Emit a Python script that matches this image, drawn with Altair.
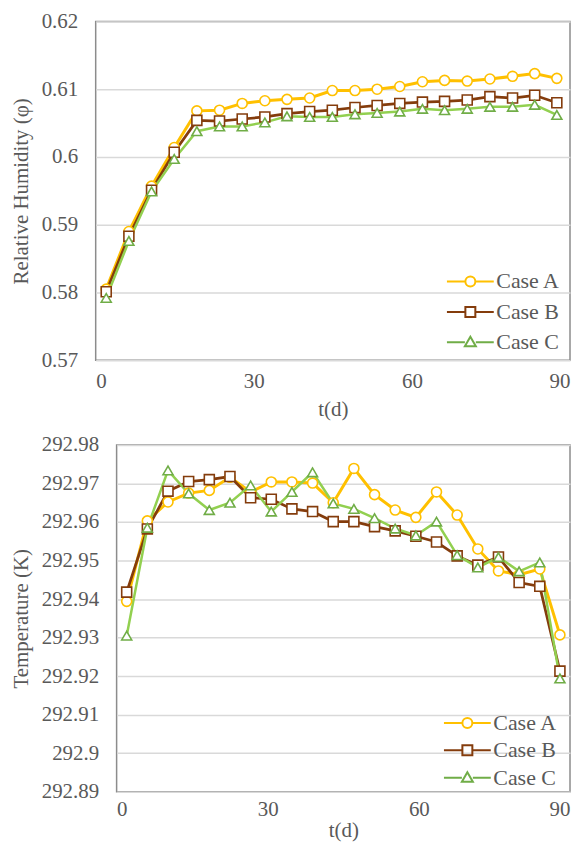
import altair as alt
import pandas as pd

cases = ["Case A", "Case B", "Case C"]

# Relative humidity panel
t_rh = [2.0, 6.3, 10.6, 14.9, 19.2, 23.5, 27.8, 32.1, 36.3, 40.6, 44.9,
        49.2, 53.4, 57.7, 62.0, 66.2, 70.5, 74.8, 79.1, 83.3, 87.5]
rh_a = [0.5805, 0.5890, 0.5957, 0.6014, 0.6068, 0.6069, 0.6079, 0.6083, 0.6085, 0.6087, 0.6098,
        0.6098, 0.6100, 0.6104, 0.6111, 0.6113, 0.6112, 0.6115, 0.6119, 0.6123, 0.6116]
rh_b = [0.5801, 0.5883, 0.5951, 0.6007, 0.6054, 0.6053, 0.6056, 0.6059, 0.6064, 0.6067, 0.6069,
        0.6073, 0.6076, 0.6079, 0.6081, 0.6082, 0.6084, 0.6089, 0.6087, 0.6091, 0.6080]
rh_c = [0.5792, 0.5876, 0.5949, 0.5997, 0.6038, 0.6045, 0.6045, 0.6051, 0.6060, 0.6059, 0.6059,
        0.6063, 0.6065, 0.6067, 0.6071, 0.6069, 0.6071, 0.6074, 0.6074, 0.6077, 0.6062]
rh_ticks = [0.57, 0.58, 0.59, 0.60, 0.61, 0.62]

# Temperature panel
t_temp = [2.0, 6.1, 10.2, 14.3, 18.4, 22.5, 26.6, 30.7, 34.8, 38.9, 43.0,
          47.1, 51.2, 55.3, 59.4, 63.5, 67.6, 71.7, 75.8, 79.9, 84.0, 88.0]
temp_a = [292.9394, 292.9603, 292.9652, 292.9675, 292.9682, 292.9716, 292.9678, 292.9704, 292.9704, 292.9701, 292.9650,
          292.9739, 292.9671, 292.9631, 292.9612, 292.9678, 292.9618, 292.9530, 292.9473, 292.9463, 292.9478, 292.9307]
temp_b = [292.9418, 292.9582, 292.9680, 292.9705, 292.9710, 292.9718, 292.9663, 292.9659, 292.9634, 292.9627, 292.9601,
          292.9601, 292.9588, 292.9577, 292.9563, 292.9548, 292.9512, 292.9488, 292.9509, 292.9443, 292.9433, 292.9213]
temp_c = [292.9305, 292.9585, 292.9734, 292.9674, 292.9631, 292.9650, 292.9695, 292.9627, 292.9678, 292.9729, 292.9648,
          292.9634, 292.9610, 292.9583, 292.9565, 292.9601, 292.9514, 292.9482, 292.9509, 292.9472, 292.9495, 292.9194]
temp_ticks = [292.89, 292.90, 292.91, 292.92, 292.93, 292.94, 292.95, 292.96, 292.97, 292.98]

x_ticks = [0, 30, 60, 90]

line_colors = ["#FFC000", "#843C0C", "#92D050"]
marker_colors = ["#FFC000", "#843C0C", "#70AD47"]
line_widths = [3, 2.5, 2.5]
marker_shapes = ["circle", "square", "triangle-up"]
legend_shapes = [
    "M-4.7,0H-1M1,0H4.7M1,0A1,1 0 1 1 -1,0A1,1 0 1 1 1,0Z",
    "M-4.7,0H-1M1,0H4.7M-1,-1H1V1H-1Z",
    "M-4.7,0H-1.1M1.1,0H4.7M0,-1.1L1.1,0.8L-1.1,0.8Z",
]

FONT = "Liberation Serif, Times New Roman, Times, serif"
TXT = "#595959"
FRAME = "#8C8C8C"


def long_df(t, a, b, c):
    rows = []
    for name, vals in zip(cases, [a, b, c]):
        for ti, vi in zip(t, vals):
            rows.append({"t": ti, "v": vi, "case": name})
    return pd.DataFrame(rows)


def panel(df, ydomain, yticks, ytitle, w, h, lx, ly, rowpad, xlabpad, xtitlepad):
    base = alt.Chart(df)
    x = alt.X("t:Q", scale=alt.Scale(domain=[0, 90], nice=False),
              axis=alt.Axis(values=x_ticks, title="t(d)", grid=False, labelPadding=xlabpad,
                            titlePadding=xtitlepad))
    y = alt.Y("v:Q", scale=alt.Scale(domain=ydomain, nice=False, zero=False),
              axis=alt.Axis(values=yticks, format=".2~f", title=ytitle, grid=True,
                            labelPadding=18, titlePadding=10))
    lines = base.mark_line().encode(
        x=x, y=y,
        color=alt.Color("case:N", scale=alt.Scale(domain=cases, range=line_colors), legend=None),
        strokeWidth=alt.StrokeWidth("case:N", scale=alt.Scale(domain=cases, range=line_widths), legend=None),
    )
    points = base.mark_point(filled=True, fill="white", size=100, strokeWidth=1.6, opacity=1).encode(
        x=x, y=y,
        stroke=alt.Stroke("case:N", scale=alt.Scale(domain=cases, range=marker_colors), legend=None),
        shape=alt.Shape("case:N", scale=alt.Scale(domain=cases, range=marker_shapes), legend=None),
    )
    leg = alt.Legend(title=None, orient="none", legendX=lx, legendY=ly, padding=0,
                     symbolSize=100, symbolStrokeWidth=2, labelFont=FONT, labelFontSize=22,
                     labelColor=TXT, labelOffset=15, rowPadding=rowpad)
    legend_layer = base.transform_filter("datum.t < -1000").mark_point(
        filled=False, size=100, strokeWidth=2, opacity=1).encode(
        x=x, y=y,
        color=alt.Color("case:N", scale=alt.Scale(domain=cases, range=marker_colors), legend=leg),
        shape=alt.Shape("case:N", scale=alt.Scale(domain=cases, range=legend_shapes), legend=leg),
    )
    return alt.layer(lines, points, legend_layer).resolve_scale(
        color="independent", shape="independent"
    ).properties(width=w, height=h, view=alt.ViewBackground(stroke=FRAME, strokeWidth=1.5))


def spacer():
    return alt.Chart(pd.DataFrame({"s": [""]})).mark_text().encode(
        text="s:N"
    ).properties(width=1, height=1, view=alt.ViewBackground(strokeOpacity=0))


top = panel(long_df(t_rh, rh_a, rh_b, rh_c), [0.57, 0.62], rh_ticks,
            "Relative Humidity (φ)", 476, 340, 365, 250, 8.5, 10, 7)
bottom = panel(long_df(t_temp, temp_a, temp_b, temp_c), [292.89, 292.98], temp_ticks,
               "Temperature (K)", 455, 348, 341, 268, 5.5, 7, 0)

chart = alt.vconcat(
    alt.hconcat(spacer(), top, spacing=0),
    alt.hconcat(spacer(), bottom, spacing=0),
    spacing=13,
).properties(
    padding={"left": 0, "top": 0, "right": 0, "bottom": 0}
).configure_axis(
    labelFont=FONT, labelFontSize=21, labelColor=TXT,
    titleFont=FONT, titleFontSize=21, titleFontWeight="normal", titleColor=TXT,
    gridColor="#D9D9D9", gridWidth=1.5, domain=False, ticks=False, tickSize=0,
).configure_legend(
    labelFont=FONT
)

chart.save("out.html", embed_options={"renderer": "svg", "actions": False})
